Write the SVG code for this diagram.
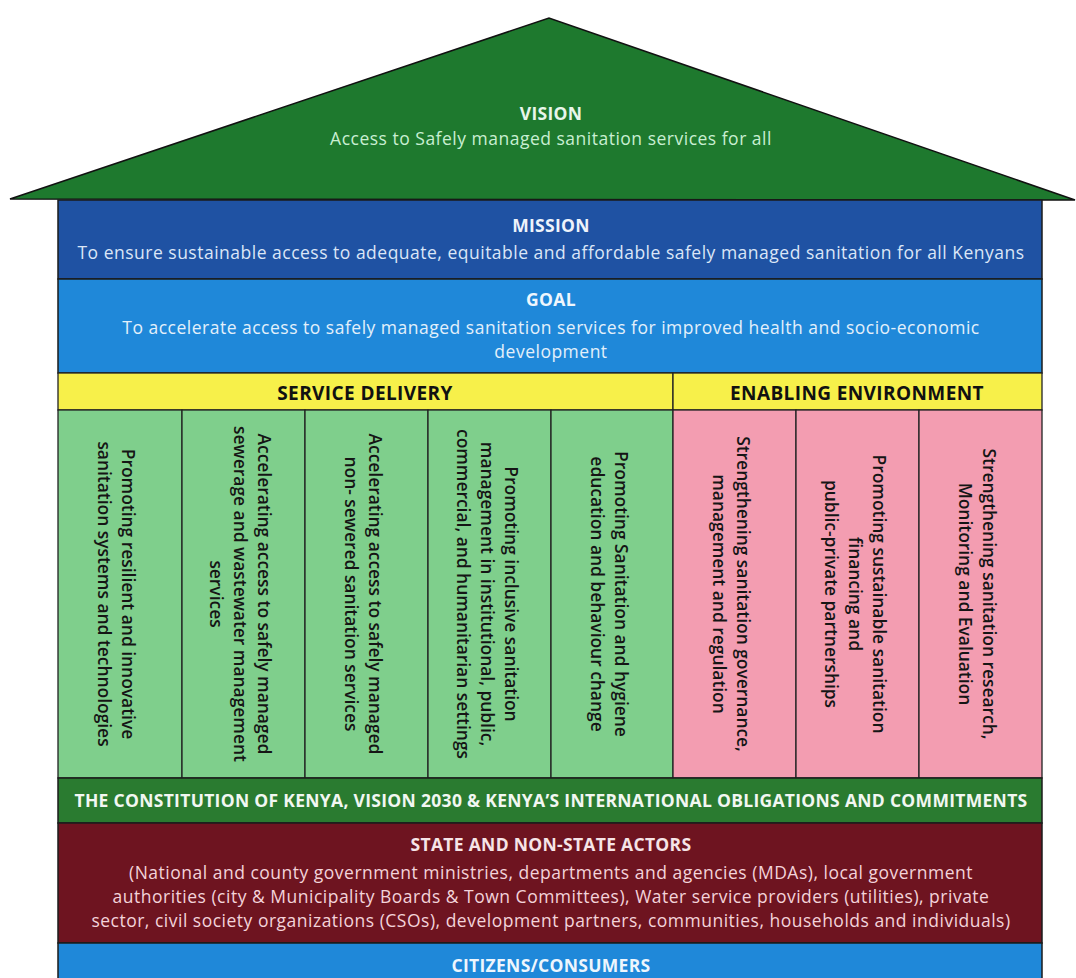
<svg xmlns="http://www.w3.org/2000/svg" width="1076" height="978" viewBox="0 0 1076 978">
<style>
text{font-family:"Open Sans","Liberation Sans",sans-serif;text-anchor:middle}
.band{stroke:#1b1b1b;stroke-width:1.5}
.title{font-weight:bold;font-size:17.5px;letter-spacing:0.3px}
.body{font-size:17.5px;letter-spacing:0.5px}
.col{font-weight:600;font-size:17.4px;fill:#151515}
.hdr{font-weight:bold;font-size:19px;letter-spacing:0.4px;fill:#111}
.cell{stroke:#222;stroke-width:1.3}
</style>
<rect width="1076" height="978" fill="#ffffff"/>
<g id="roof">
<polygon points="10,199 549,18 1075,200" fill="#1e792e" stroke="#111" stroke-width="1.5"/>
<text x="551" y="120" class="title" fill="#e8f6ea">VISION</text>
<text x="551" y="145" class="body" fill="#c9efd2">Access to Safely managed sanitation services for all</text>
</g>
<g id="mission">
<rect x="58" y="200" width="984" height="79" fill="#1f52a3" class="band"/>
<text x="551" y="232" class="title" fill="#eef3fb">MISSION</text>
<text x="551" y="259" class="body" fill="#dbe6f7">To ensure sustainable access to adequate, equitable and affordable safely managed sanitation for all Kenyans</text>
</g>
<g id="goal">
<rect x="58" y="279" width="984" height="94" fill="#1f88d9" class="band"/>
<text x="551" y="306" class="title" fill="#eef6fd">GOAL</text>
<text x="551" y="334" class="body" fill="#e3f0fb">To accelerate access to safely managed sanitation services for improved health and socio-economic</text>
<text x="551" y="358" class="body" fill="#e3f0fb">development</text>
</g>
<g id="service-delivery">
<rect x="58" y="373" width="615" height="37" fill="#f7f04a" class="cell"/>
<text x="365" y="400" class="hdr">SERVICE DELIVERY</text>
</g>
<g id="enabling-environment">
<rect x="673" y="373" width="369" height="37" fill="#f7f04a" class="cell"/>
<text x="857" y="400" class="hdr">ENABLING ENVIRONMENT</text>
</g>
<g id="sd1">
<rect x="58" y="410" width="124" height="368" fill="#7fcf8c" class="cell"/>
<text transform="translate(116,594) rotate(90)" class="col"><tspan x="0" y="-6">Promoting resilient and innovative</tspan><tspan x="0" y="18">sanitation systems and technologies</tspan></text>
</g>
<g id="sd2">
<rect x="182" y="410" width="123" height="368" fill="#7fcf8c" class="cell"/>
<text transform="translate(240,594) rotate(90)" class="col"><tspan x="0" y="-18">Accelerating access to safely managed</tspan><tspan x="0" y="6">sewerage and wastewater management</tspan><tspan x="0" y="30">services</tspan></text>
</g>
<g id="sd3">
<rect x="305" y="410" width="123" height="368" fill="#7fcf8c" class="cell"/>
<text transform="translate(363,594) rotate(90)" class="col"><tspan x="0" y="-6">Accelerating access to safely managed</tspan><tspan x="0" y="18">non- sewered sanitation services</tspan></text>
</g>
<g id="sd4">
<rect x="428" y="410" width="123" height="368" fill="#7fcf8c" class="cell"/>
<text transform="translate(487,594) rotate(90)" class="col"><tspan x="0" y="-18">Promoting inclusive sanitation</tspan><tspan x="0" y="6">management in institutional, public,</tspan><tspan x="0" y="30">commercial, and humanitarian settings</tspan></text>
</g>
<g id="sd5">
<rect x="551" y="410" width="122" height="368" fill="#7fcf8c" class="cell"/>
<text transform="translate(609,594) rotate(90)" class="col"><tspan x="0" y="-6">Promoting Sanitation and hygiene</tspan><tspan x="0" y="18">education and behaviour change</tspan></text>
</g>
<g id="ee1">
<rect x="673" y="410" width="123" height="368" fill="#f39db1" class="cell"/>
<text transform="translate(731,594) rotate(90)" class="col"><tspan x="0" y="-6">Strengthening sanitation governance,</tspan><tspan x="0" y="18">management and regulation</tspan></text>
</g>
<g id="ee2">
<rect x="796" y="410" width="123" height="368" fill="#f39db1" class="cell"/>
<text transform="translate(855,594) rotate(90)" class="col"><tspan x="0" y="-18">Promoting sustainable sanitation</tspan><tspan x="0" y="6">financing and</tspan><tspan x="0" y="30">public-private partnerships</tspan></text>
</g>
<g id="ee3">
<rect x="919" y="410" width="123" height="368" fill="#f39db1" class="cell"/>
<text transform="translate(977,594) rotate(90)" class="col"><tspan x="0" y="-6">Strengthening sanitation research,</tspan><tspan x="0" y="18">Monitoring and Evaluation</tspan></text>
</g>
<g id="constitution">
<rect x="58" y="778" width="984" height="45" fill="#2a7b30" class="band"/>
<text x="551" y="807" class="title" fill="#f2f7f2">THE CONSTITUTION OF KENYA, VISION 2030 &amp; KENYA’S INTERNATIONAL OBLIGATIONS AND COMMITMENTS</text>
</g>
<g id="actors">
<rect x="58" y="823" width="984" height="120" fill="#6e1420" class="band"/>
<text x="551" y="851" class="title" fill="#f6e4e7">STATE AND NON-STATE ACTORS</text>
<text x="551" y="879" class="body" fill="#f3d3da">(National and county government ministries, departments and agencies (MDAs), local government</text>
<text x="551" y="903" class="body" fill="#f3d3da">authorities (city &amp; Municipality Boards &amp; Town Committees), Water service providers (utilities), private</text>
<text x="551" y="927" class="body" fill="#f3d3da">sector, civil society organizations (CSOs), development partners, communities, households and individuals)</text>
</g>
<g id="citizens">
<rect x="58" y="943" width="984" height="40" fill="#1f88d9" class="band"/>
<text x="551" y="972" class="title" fill="#eef6fd">CITIZENS/CONSUMERS</text>
</g>
<g id="connectors"></g>
</svg>
